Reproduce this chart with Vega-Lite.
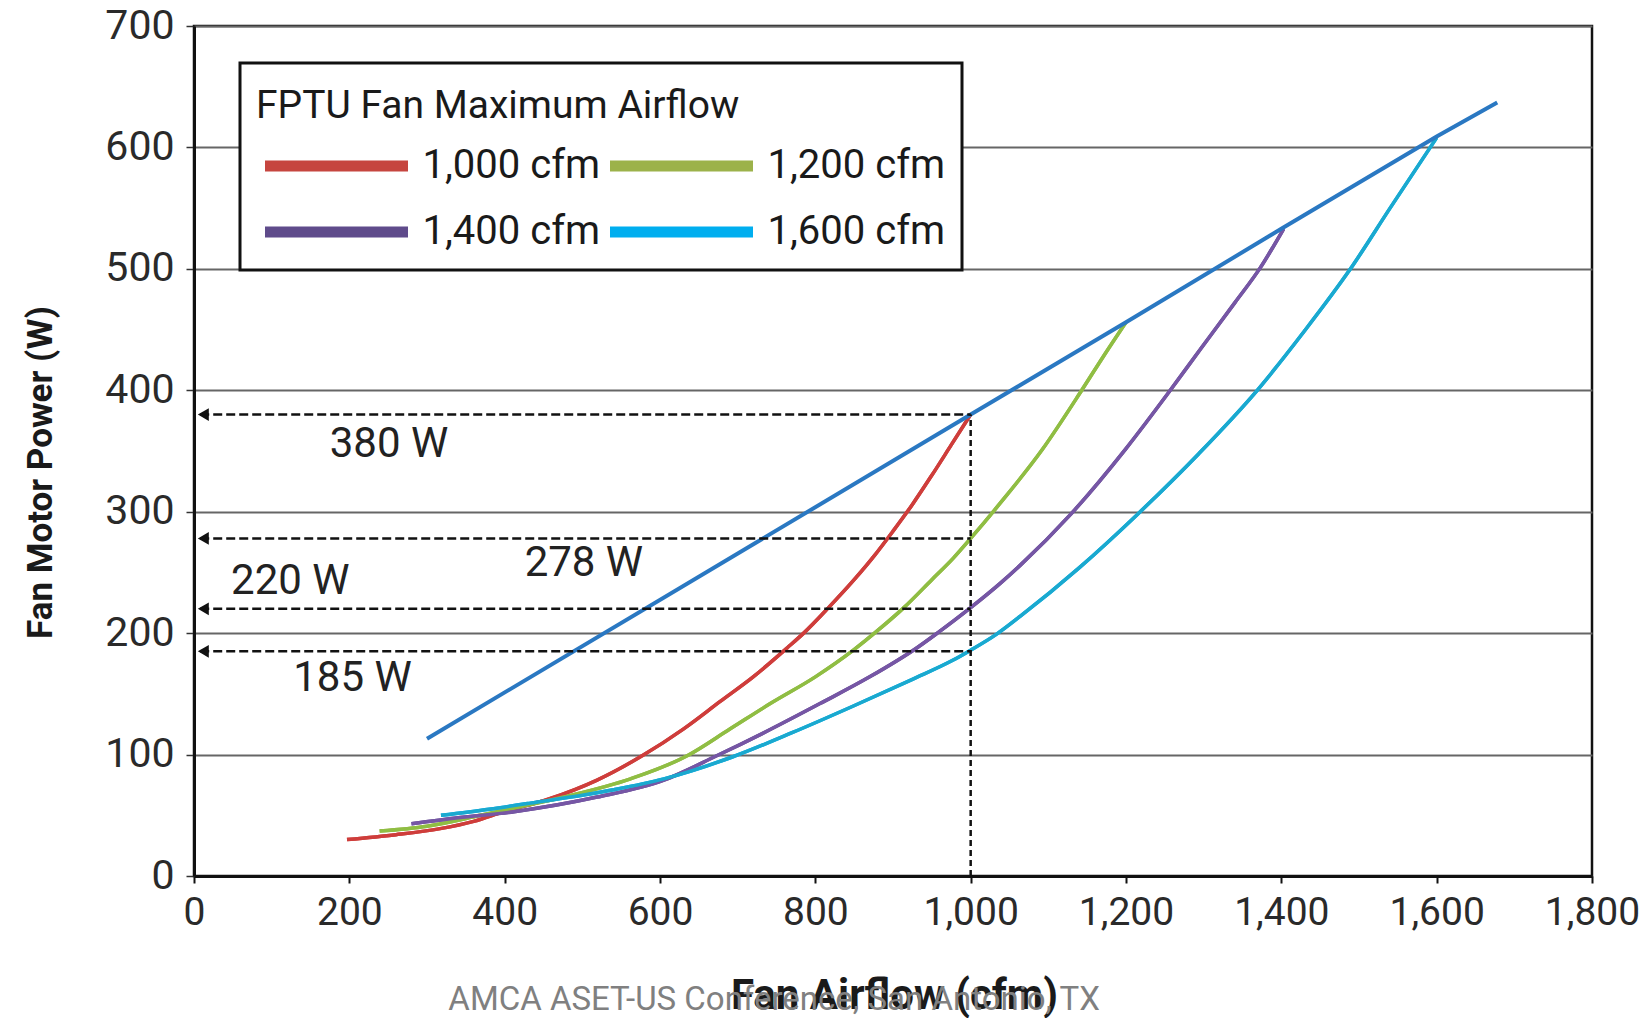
{
  "$schema": "https://vega.github.io/schema/vega-lite/v6.json",
  "width": 1398,
  "height": 850,
  "autosize": {"type": "none"},
  "padding": {"left": 194, "top": 26, "right": 50, "bottom": 142},
  "background": "white",
  "config": {
    "view": {"stroke": "#111111", "strokeWidth": 2.5},
    "font": "Roboto",
    "legend": {"strokeWidth": 3}
  },
  "datasets": {
    "curves": [
      {"s": "1,000 cfm", "cfm": 197, "w": 30}, {"s": "1,000 cfm", "cfm": 260, "w": 34}, {"s": "1,000 cfm", "cfm": 317, "w": 39}, {"s": "1,000 cfm", "cfm": 360, "w": 45}, {"s": "1,000 cfm", "cfm": 399, "w": 53}, {"s": "1,000 cfm", "cfm": 455, "w": 63}, {"s": "1,000 cfm", "cfm": 519, "w": 79}, {"s": "1,000 cfm", "cfm": 577, "w": 99}, {"s": "1,000 cfm", "cfm": 630, "w": 121}, {"s": "1,000 cfm", "cfm": 678, "w": 144}, {"s": "1,000 cfm", "cfm": 720, "w": 164}, {"s": "1,000 cfm", "cfm": 764, "w": 188}, {"s": "1,000 cfm", "cfm": 785, "w": 200}, {"s": "1,000 cfm", "cfm": 817, "w": 221}, {"s": "1,000 cfm", "cfm": 850, "w": 244}, {"s": "1,000 cfm", "cfm": 875, "w": 263}, {"s": "1,000 cfm", "cfm": 900, "w": 284}, {"s": "1,000 cfm", "cfm": 925, "w": 306}, {"s": "1,000 cfm", "cfm": 950, "w": 330}, {"s": "1,000 cfm", "cfm": 975, "w": 355}, {"s": "1,000 cfm", "cfm": 1000, "w": 380},
      {"s": "1,200 cfm", "cfm": 239, "w": 37}, {"s": "1,200 cfm", "cfm": 300, "w": 41}, {"s": "1,200 cfm", "cfm": 369, "w": 50}, {"s": "1,200 cfm", "cfm": 420, "w": 57}, {"s": "1,200 cfm", "cfm": 476, "w": 65}, {"s": "1,200 cfm", "cfm": 562, "w": 80}, {"s": "1,200 cfm", "cfm": 635, "w": 99}, {"s": "1,200 cfm", "cfm": 690, "w": 121}, {"s": "1,200 cfm", "cfm": 742, "w": 142}, {"s": "1,200 cfm", "cfm": 800, "w": 164}, {"s": "1,200 cfm", "cfm": 849, "w": 186}, {"s": "1,200 cfm", "cfm": 880, "w": 202}, {"s": "1,200 cfm", "cfm": 914, "w": 221}, {"s": "1,200 cfm", "cfm": 950, "w": 244}, {"s": "1,200 cfm", "cfm": 978, "w": 262}, {"s": "1,200 cfm", "cfm": 1000, "w": 278}, {"s": "1,200 cfm", "cfm": 1038, "w": 307}, {"s": "1,200 cfm", "cfm": 1092, "w": 351}, {"s": "1,200 cfm", "cfm": 1143, "w": 400}, {"s": "1,200 cfm", "cfm": 1170, "w": 427}, {"s": "1,200 cfm", "cfm": 1200, "w": 456},
      {"s": "1,400 cfm", "cfm": 280, "w": 43}, {"s": "1,400 cfm", "cfm": 340, "w": 48}, {"s": "1,400 cfm", "cfm": 412, "w": 53}, {"s": "1,400 cfm", "cfm": 519, "w": 65}, {"s": "1,400 cfm", "cfm": 605, "w": 79}, {"s": "1,400 cfm", "cfm": 673, "w": 99}, {"s": "1,400 cfm", "cfm": 740, "w": 120}, {"s": "1,400 cfm", "cfm": 806, "w": 142}, {"s": "1,400 cfm", "cfm": 870, "w": 164}, {"s": "1,400 cfm", "cfm": 931, "w": 188}, {"s": "1,400 cfm", "cfm": 957, "w": 200}, {"s": "1,400 cfm", "cfm": 1000, "w": 221}, {"s": "1,400 cfm", "cfm": 1038, "w": 241}, {"s": "1,400 cfm", "cfm": 1064, "w": 256}, {"s": "1,400 cfm", "cfm": 1129, "w": 298}, {"s": "1,400 cfm", "cfm": 1200, "w": 352}, {"s": "1,400 cfm", "cfm": 1257, "w": 400}, {"s": "1,400 cfm", "cfm": 1296, "w": 434}, {"s": "1,400 cfm", "cfm": 1340, "w": 472}, {"s": "1,400 cfm", "cfm": 1373, "w": 501}, {"s": "1,400 cfm", "cfm": 1403, "w": 533},
      {"s": "1,600 cfm", "cfm": 318, "w": 50}, {"s": "1,600 cfm", "cfm": 380, "w": 55}, {"s": "1,600 cfm", "cfm": 433, "w": 60}, {"s": "1,600 cfm", "cfm": 540, "w": 71}, {"s": "1,600 cfm", "cfm": 605, "w": 80}, {"s": "1,600 cfm", "cfm": 693, "w": 98}, {"s": "1,600 cfm", "cfm": 770, "w": 118}, {"s": "1,600 cfm", "cfm": 849, "w": 140}, {"s": "1,600 cfm", "cfm": 925, "w": 162}, {"s": "1,600 cfm", "cfm": 975, "w": 177}, {"s": "1,600 cfm", "cfm": 1000, "w": 186}, {"s": "1,600 cfm", "cfm": 1033, "w": 199}, {"s": "1,600 cfm", "cfm": 1064, "w": 214}, {"s": "1,600 cfm", "cfm": 1140, "w": 254}, {"s": "1,600 cfm", "cfm": 1215, "w": 298}, {"s": "1,600 cfm", "cfm": 1294, "w": 348}, {"s": "1,600 cfm", "cfm": 1369, "w": 400}, {"s": "1,600 cfm", "cfm": 1430, "w": 449}, {"s": "1,600 cfm", "cfm": 1489, "w": 500}, {"s": "1,600 cfm", "cfm": 1540, "w": 550}, {"s": "1,600 cfm", "cfm": 1600, "w": 608}
    ],
    "envelope": [
      {"cfm": 300, "w": 113}, {"cfm": 1000, "w": 380}, {"cfm": 1200, "w": 456}, {"cfm": 1400, "w": 533}, {"cfm": 1600, "w": 609}, {"cfm": 1678, "w": 637}
    ],
    "levels": [
      {"w": 380}, {"w": 278}, {"w": 220}, {"w": 185}
    ],
    "labels": [
      {"text": "380 W", "cfm": 251, "w": 356},
      {"text": "278 W", "cfm": 502, "w": 258},
      {"text": "220 W", "cfm": 124, "w": 243},
      {"text": "185 W", "cfm": 204, "w": 163}
    ],
    "note": [
      {"text": "AMCA ASET-US Conference, San Antonio, TX", "cfm": 747, "w": -110}
    ]
  },
  "layer": [
    {
      "data": {"name": "curves"},
      "mark": {"type": "line", "strokeWidth": 3.5, "interpolate": "monotone"},
      "encoding": {
        "x": {
          "field": "cfm", "type": "quantitative",
          "scale": {"domain": [0, 1800], "nice": false, "zero": false},
          "axis": {
            "values": [0, 200, 400, 600, 800, 1000, 1200, 1400, 1600, 1800],
            "format": ",d",
            "grid": false,
            "labelFlush": false,
            "labelOverlap": false,
            "domainColor": "#111111", "domainWidth": 3,
            "tickColor": "#111111", "tickWidth": 2, "tickSize": 7,
            "labelFont": "Roboto", "labelFontSize": 39, "labelColor": "#2a2a2a", "labelPadding": 10,
            "title": "Fan Airflow (cfm)",
            "titleFont": "Roboto", "titleFontSize": 42, "titleFontWeight": "bold", "titleColor": "#1a1a1a",
            "titleX": 700, "titleY": 132, "titleAlign": "center", "titleBaseline": "alphabetic"
          }
        },
        "y": {
          "field": "w", "type": "quantitative",
          "scale": {"domain": [0, 700], "nice": false},
          "axis": {
            "values": [0, 100, 200, 300, 400, 500, 600, 700],
            "grid": true, "gridColor": "#666666", "gridWidth": 1.8,
            "domainColor": "#111111", "domainWidth": 3,
            "tickColor": "#333333", "tickWidth": 1.5, "tickSize": 8,
            "labelFont": "Roboto", "labelFontSize": 41, "labelColor": "#2a2a2a", "labelPadding": 12,
            "title": "Fan Motor Power (W)",
            "titleFont": "Roboto", "titleFontSize": 35, "titleFontWeight": "bold", "titleColor": "#1a1a1a",
            "titleX": -154, "titleY": 446, "titleAngle": -90, "titleAlign": "center", "titleBaseline": "middle"
          }
        },
        "color": {
          "field": "s", "type": "nominal",
          "scale": {"domain": ["1,000 cfm", "1,200 cfm", "1,400 cfm", "1,600 cfm"], "range": ["#c6453f", "#9cb24a", "#5f4b8b", "#00aeef"]},
          "legend": {
            "title": "FPTU Fan Maximum Airflow",
            "orient": "none", "legendX": 46, "legendY": 37,
            "direction": "horizontal", "columns": 2,
            "symbolType": "stroke", "symbolSize": 20449, "symbolStrokeWidth": 11, "symbolOffset": 3.5,
            "labelFont": "Roboto", "labelFontSize": 40, "labelColor": "#1a1a1a", "labelOffset": 9, "labelLimit": 0,
            "titleFont": "Roboto", "titleFontSize": 39, "titleFontWeight": "normal", "titleColor": "#1a1a1a",
            "titleBaseline": "line-top", "titleLineHeight": 56, "titlePadding": 26, "titleLimit": 0,
            "columnPadding": -12, "rowPadding": 22, "clipHeight": 44,
            "padding": 16, "strokeColor": "#111111", "fillColor": "white"
          }
        }
      }
    },
    {
      "data": {"name": "curves"},
      "mark": {"type": "line", "strokeWidth": 3.5, "interpolate": "monotone"},
      "encoding": {
        "x": {"field": "cfm", "type": "quantitative"},
        "y": {"field": "w", "type": "quantitative"},
        "stroke": {
          "field": "s", "type": "nominal",
          "scale": {"domain": ["1,000 cfm", "1,200 cfm", "1,400 cfm", "1,600 cfm"], "range": ["#cf3d3b", "#8fbe43", "#7656a5", "#1aa9cf"]},
          "legend": null
        }
      }
    },
    {
      "data": {"name": "envelope"},
      "mark": {"type": "line", "strokeWidth": 4, "color": "#2a78c2"},
      "encoding": {
        "x": {"field": "cfm", "type": "quantitative"},
        "y": {"field": "w", "type": "quantitative"}
      }
    },
    {
      "data": {"name": "levels"},
      "mark": {"type": "rule", "color": "#111111", "strokeWidth": 2.5, "strokeDash": [9, 4]},
      "encoding": {
        "y": {"field": "w", "type": "quantitative"},
        "x": {"datum": 8},
        "x2": {"datum": 1000}
      }
    },
    {
      "data": {"values": [{"a": 1}]},
      "mark": {"type": "rule", "color": "#111111", "strokeWidth": 2.5, "strokeDash": [6, 4]},
      "encoding": {
        "x": {"datum": 1000},
        "y": {"datum": 0},
        "y2": {"datum": 380}
      }
    },
    {
      "data": {"name": "levels"},
      "mark": {"type": "point", "shape": "triangle-left", "filled": true, "color": "#111111", "size": 160, "opacity": 1},
      "encoding": {
        "y": {"field": "w", "type": "quantitative"},
        "x": {"datum": 12}
      }
    },
    {
      "data": {"name": "labels"},
      "mark": {"type": "text", "font": "Roboto", "fontSize": 42, "color": "#222222", "align": "center", "baseline": "middle"},
      "encoding": {
        "x": {"field": "cfm", "type": "quantitative"},
        "y": {"field": "w", "type": "quantitative"},
        "text": {"field": "text"}
      }
    },
    {
      "data": {"name": "note"},
      "mark": {"type": "text", "font": "Roboto", "fontSize": 33, "color": "#808080", "align": "center", "baseline": "alphabetic"},
      "encoding": {
        "x": {"field": "cfm", "type": "quantitative"},
        "y": {"field": "w", "type": "quantitative"},
        "text": {"field": "text"}
      }
    }
  ]
}
